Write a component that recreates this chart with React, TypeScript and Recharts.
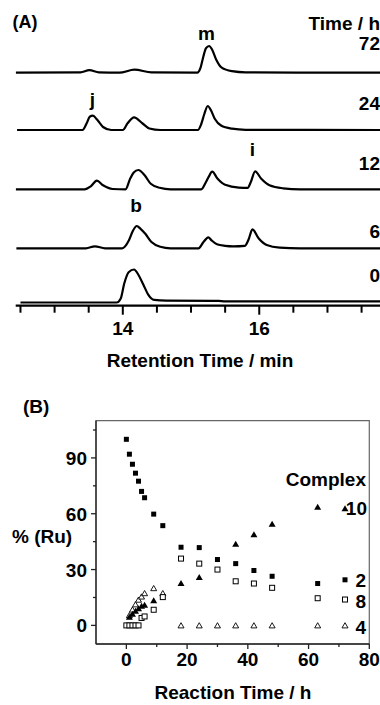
import React from 'react'
import { LineChart, Line, XAxis, YAxis, ScatterChart, Scatter, ReferenceArea } from 'recharts'

const FONT = 'Arial, "Liberation Sans", Helvetica, sans-serif'

// (A) HPLC traces: [retention time / min, signal], one per reaction time
const traceTimes = ['72', '24', '12', '6', '0']
const traceOffsets = [233, 175.7, 116.4, 57.4, 3.2]

const trace72: [number, number][] = [
  [12.43, 0], [13.38, 0.3], [13.51, 2.5], [13.65, 0.4], [13.95, 0], [14.17, 3], [14.42, 0.3],
  [15.09, 0], [15.14, 5], [15.18, 16], [15.22, 24.5], [15.265, 26.7], [15.31, 23], [15.37, 13],
  [15.45, 5], [15.6, 1.5], [15.8, 0.3], [17.77, 0],
]
const trace24: [number, number][] = [
  [12.45, 0], [13.41, 0], [13.47, 6.7], [13.515, 13.3], [13.561, 14.3], [13.625, 10.2], [13.71, 3],
  [13.83, 0], [14.0, 0], [14.07, 6.7], [14.165, 12.7], [14.29, 6.5], [14.39, 1.5], [14.55, 0],
  [15.1, 0], [15.15, 6], [15.195, 16], [15.245, 24], [15.29, 20], [15.35, 11], [15.44, 4.5],
  [15.6, 1.3], [15.8, 0.2], [17.77, 0],
]
const trace12: [number, number][] = [
  [12.43, 0], [13.44, 0], [13.53, 3], [13.62, 8.6], [13.71, 4], [13.85, 0.3], [14.04, 0],
  [14.11, 11], [14.16, 16.7], [14.228, 19.3], [14.32, 14], [14.41, 5.5], [14.54, 1.5], [14.7, 0],
  [15.15, 0], [15.21, 6], [15.255, 12], [15.31, 17.6], [15.39, 10.5], [15.5, 4.5], [15.7, 1.7],
  [15.83, 1.5], [15.875, 7], [15.94, 18], [16.03, 10.5], [16.15, 4], [16.35, 1], [16.6, 0], [17.77, 0],
]
const trace6: [number, number][] = [
  [12.44, 0], [13.46, 0], [13.59, 2], [13.74, 0], [13.99, 0], [14.09, 8], [14.145, 17], [14.205, 22.3],
  [14.26, 19.5], [14.33, 14.5], [14.42, 6.2], [14.55, 1.5], [14.7, 0], [15.11, 0], [15.18, 6], [15.253, 11],
  [15.3, 8], [15.38, 4], [15.5, 2.5], [15.62, 2], [15.79, 2.5], [15.845, 9], [15.9, 19], [15.99, 10],
  [16.11, 3.3], [16.3, 0.7], [16.6, 0], [17.77, 0],
]
const trace0: [number, number][] = [
  [12.5, 0], [13.91, 0], [13.97, 4], [14.02, 18.7], [14.085, 30.3], [14.165, 33], [14.23, 27.5],
  [14.3, 18], [14.37, 8.2], [14.46, 2.6], [14.64, 1.8], [15.4, 1.6], [15.5, 1.1], [17.77, 1.1],
]
const traces = [trace72, trace24, trace12, trace6, trace0]

const retentionTicks = [12.5, 13, 13.5, 14, 14.5, 15, 15.5, 16, 16.5, 17, 17.5]
const retentionLabels = [14, 16]

// (B) % Ru vs reaction time / h
const complex2: [number, number][] = [
  [0, 100], [1, 92], [2, 86.6], [3, 81.8], [4, 77.5], [5, 72], [6, 68.6], [9, 59.8], [12, 53.6],
  [18, 42], [24, 41.8], [30, 35.4], [36, 33.2], [42, 29.5], [48, 26.4], [63, 22.5], [72, 24.5],
]
const complex8: [number, number][] = [
  [0, 0], [1, 0], [2, 0], [3, 0], [4, 0], [5, 4], [6, 4.8], [9, 8.4], [12, 15.2],
  [18, 35.9], [24, 33.2], [30, 30], [36, 23.7], [42, 22.5], [48, 20.2], [63, 14.6], [72, 13.9],
]
const complex10: [number, number][] = [
  [1, 4.5], [2, 6.2], [3, 7.7], [4, 9.1], [5, 10.4], [6, 11], [9, 13.4],
  [18, 22.7], [24, 25.9], [36, 43.8], [42, 48.9], [48, 54.5], [63, 63.7], [72, 62.8],
]
const complex4: [number, number][] = [
  [1, 5.5], [2, 8.5], [3, 11.3], [4, 13.8], [5, 15.5], [6, 17.3], [9, 20], [12, 17.3],
  [18, 0], [24, 0], [30, 0], [36, 0], [42, 0], [48, 0], [63, 0], [72, 0],
]
const reactionTicks = [0, 10, 20, 30, 40, 50, 60, 70, 80]
const reactionLabels = [0, 20, 40, 60, 80]
const ruTicks = [0, 15, 30, 45, 60, 75, 90, 105]
const ruLabels = [0, 30, 60, 90]

const toPts = (arr: [number, number][]) => arr.map(([t, v]) => ({ t, v }))

const txt = { fontFamily: FONT, fontWeight: 700, fontSize: 19, fill: '#000' } as const

const RetentionTick = (props: any) => {
  const { x, y, payload } = props
  const major = retentionLabels.includes(payload.value)
  return (
    <g>
      <line x1={x} x2={x} y1={y} y2={y + (major ? 9 : 7)} stroke="#000" strokeWidth={2} />
      {major && (
        <text x={x} y={y + 29} textAnchor="middle" {...txt}>
          {payload.value}
        </text>
      )}
    </g>
  )
}

const ReactionTick = (props: any) => {
  const { x, y, payload } = props
  const major = reactionLabels.includes(payload.value)
  return (
    <g>
      <line x1={x} x2={x} y1={y} y2={y + (major ? 5 : 3)} stroke="#222" strokeWidth={1.3} />
      {major && (
        <text x={x} y={y + 22} textAnchor="middle" {...txt}>
          {payload.value}
        </text>
      )}
    </g>
  )
}

const RuTick = (props: any) => {
  const { x, y, payload } = props
  const major = ruLabels.includes(payload.value)
  return (
    <g>
      <line x1={x - (major ? 5 : 3)} x2={x} y1={y} y2={y} stroke="#222" strokeWidth={1.3} />
      {major && (
        <text x={x - 9} y={y + 7} textAnchor="end" {...txt}>
          {payload.value}
        </text>
      )}
    </g>
  )
}

const FilledSquare = (p: any) => <rect x={p.cx - 2.5} y={p.cy - 2.5} width={5} height={5} fill="#000" />
const OpenSquare = (p: any) => (
  <rect x={p.cx - 2.5} y={p.cy - 2.5} width={5} height={5} fill="#fff" stroke="#000" strokeWidth={1} />
)
const FilledTriangle = (p: any) => (
  <polygon points={`${p.cx - 3.5},${p.cy + 2.8} ${p.cx + 3.5},${p.cy + 2.8} ${p.cx},${p.cy - 3.2}`} fill="#000" />
)
const OpenTriangle = (p: any) => (
  <polygon
    points={`${p.cx - 3},${p.cy + 2.5} ${p.cx + 3},${p.cy + 2.5} ${p.cx},${p.cy - 2.7}`}
    fill="#fff"
    stroke="#000"
    strokeWidth={0.9}
  />
)

export default function App() {
  return (
    <div style={{ position: 'absolute', left: 0, top: 0, width: 380, height: 705, background: '#fff' }}>
      {/* (A) chromatograms */}
      <div style={{ position: 'absolute', left: 0, top: 0 }}>
        <LineChart width={380} height={380} margin={{ top: 0, right: 0, bottom: 0, left: 15.7 }}>
          <XAxis
            type="number"
            dataKey="t"
            domain={[12.43, 17.77]}
            allowDataOverflow
            ticks={retentionTicks}
            interval={0}
            tickSize={0}
            tickMargin={0}
            height={74.3}
            tick={<RetentionTick />}
            axisLine={{ stroke: '#000', strokeWidth: 2.3 }}
          />
          <YAxis hide type="number" dataKey="y" domain={[0, 305.7]} allowDataOverflow />
          {traces.map((tr, i) => (
            <Line
              key={traceTimes[i]}
              data={tr.map(([t, h]) => ({ t, y: h + traceOffsets[i] }))}
              dataKey="y"
              type="monotone"
              stroke="#000"
              strokeWidth={2.2}
              dot={false}
              isAnimationActive={false}
            />
          ))}
        </LineChart>
      </div>

      {/* (B) composition vs reaction time */}
      <div style={{ position: 'absolute', left: 0, top: 400 }}>
        <ScatterChart width={380} height={305} margin={{ top: 20.7, right: 10.7, bottom: 0, left: 0 }}>
          <XAxis
            type="number"
            dataKey="t"
            domain={[-10, 80]}
            allowDataOverflow
            ticks={reactionTicks}
            interval={0}
            tickSize={0}
            tickMargin={0}
            height={61}
            tick={<ReactionTick />}
            axisLine={{ stroke: '#222', strokeWidth: 1.3 }}
          />
          <YAxis
            type="number"
            dataKey="v"
            domain={[-10, 110]}
            allowDataOverflow
            ticks={ruTicks}
            interval={0}
            tickSize={0}
            tickMargin={0}
            width={96}
            tick={<RuTick />}
            axisLine={{ stroke: '#222', strokeWidth: 1.3 }}
          />
          <ReferenceArea x1={-10} x2={80} y1={-10} y2={110} fill="none" stroke="#666" strokeWidth={1.2} />
          <Scatter data={toPts(complex4)} shape={OpenTriangle} isAnimationActive={false} />
          <Scatter data={toPts(complex8)} shape={OpenSquare} isAnimationActive={false} />
          <Scatter data={toPts(complex10)} shape={FilledTriangle} isAnimationActive={false} />
          <Scatter data={toPts(complex2)} shape={FilledSquare} isAnimationActive={false} />
        </ScatterChart>
      </div>

      {/* annotations */}
      <svg width={380} height={705} style={{ position: 'absolute', left: 0, top: 0, pointerEvents: 'none' }}>
        <text x={12.5} y={28} {...txt} fontSize={18}>(A)</text>
        <text x={380} y={30} textAnchor="end" {...txt}>Time / h</text>
        <text x={380} y={50} textAnchor="end" {...txt}>72</text>
        <text x={380} y={110} textAnchor="end" {...txt}>24</text>
        <text x={380} y={170} textAnchor="end" {...txt}>12</text>
        <text x={380} y={238} textAnchor="end" {...txt}>6</text>
        <text x={380} y={281.5} textAnchor="end" {...txt}>0</text>
        <text x={206.5} y={40} textAnchor="middle" {...txt}>m</text>
        <text x={92.5} y={106} textAnchor="middle" {...txt}>j</text>
        <text x={252.5} y={156} textAnchor="middle" {...txt}>i</text>
        <text x={136} y={211.5} textAnchor="middle" {...txt}>b</text>
        <text x={200} y={367} textAnchor="middle" {...txt}>Retention Time / min</text>

        <text x={23} y={413} {...txt}>(B)</text>
        <text x={12} y={543} {...txt}>% (Ru)</text>
        <text x={366} y={486} textAnchor="end" {...txt}>Complex</text>
        <text x={367} y={515} textAnchor="end" {...txt}>10</text>
        <text x={366} y={586.5} textAnchor="end" {...txt}>2</text>
        <text x={366} y={608} textAnchor="end" {...txt}>8</text>
        <text x={366} y={633.5} textAnchor="end" {...txt}>4</text>
        <text x={233} y={699} textAnchor="middle" {...txt}>Reaction Time / h</text>
      </svg>
    </div>
  )
}
